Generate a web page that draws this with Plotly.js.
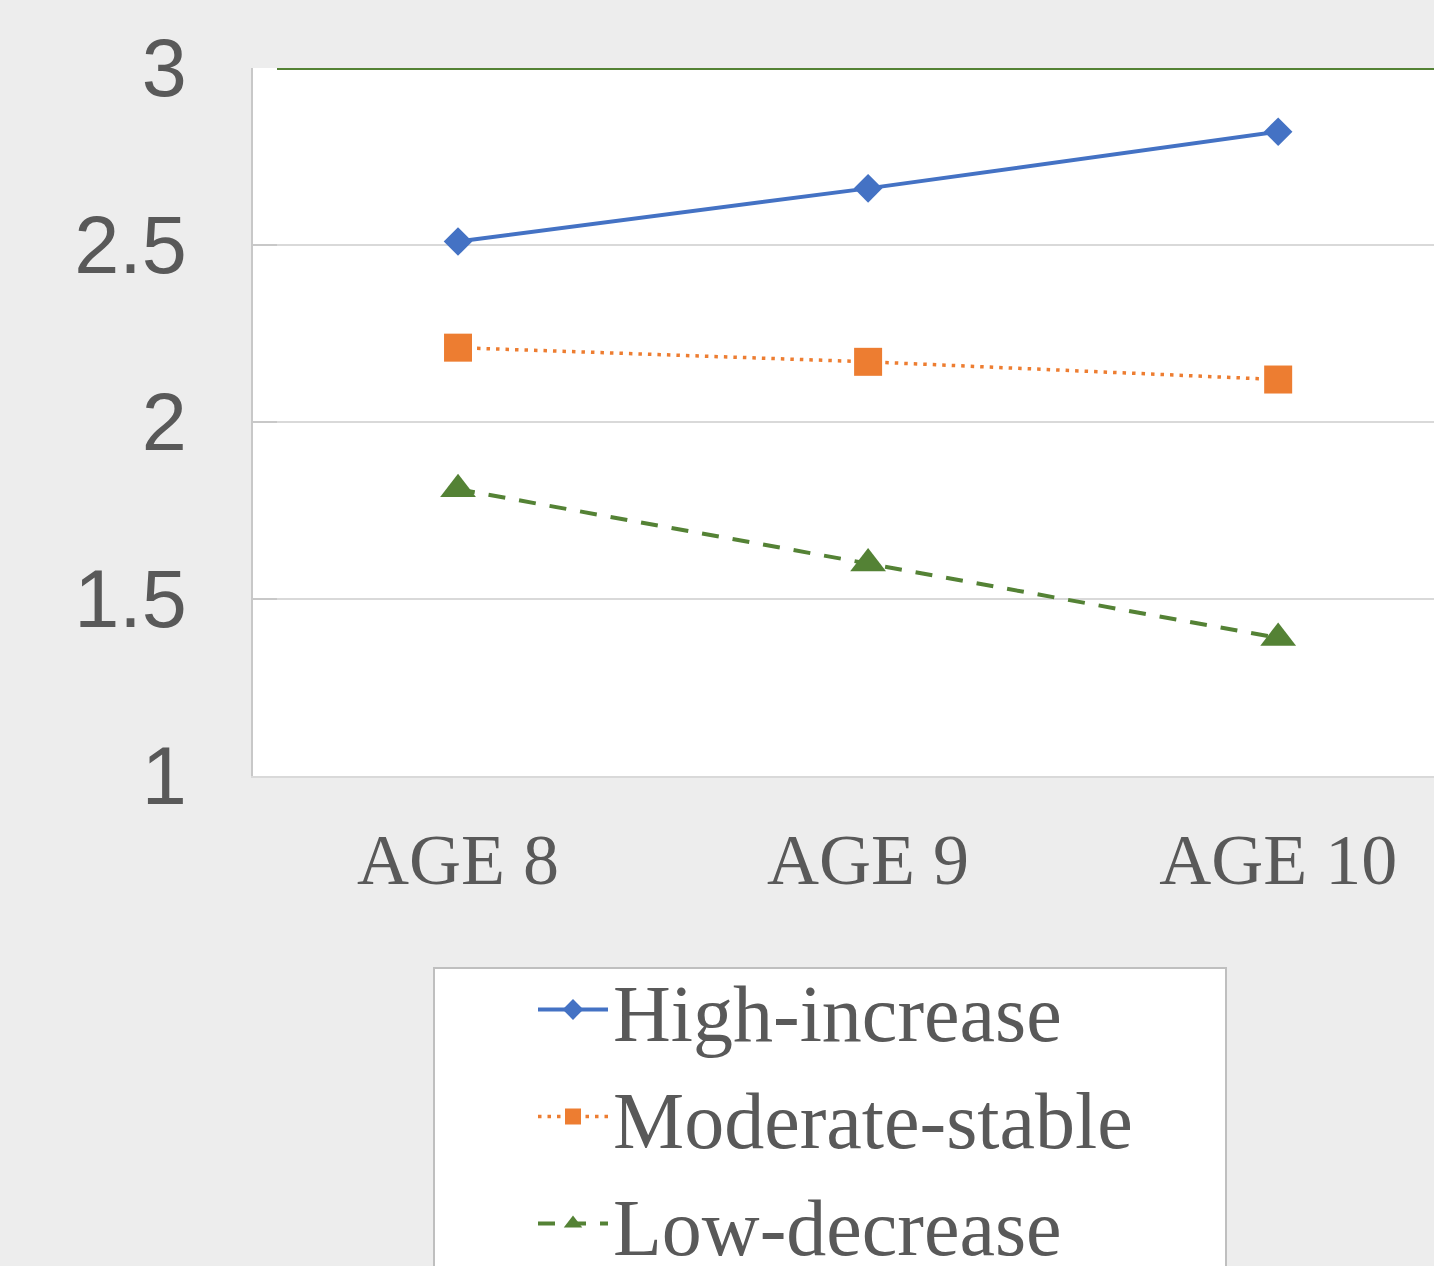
<!DOCTYPE html>
<html>
<head>
<meta charset="utf-8">
<script src="https://cdn.plot.ly/plotly-3.0.1.min.js"></script>
<style>html,body{margin:0;padding:0;background:#EDEDED;}#chart{width:1434px;height:1266px;}</style>
</head>
<body>
<div id="chart"></div>
<script>
var categories = ["AGE 8", "AGE 9", "AGE 10"];
var seriesNames = ["High-increase", "Moderate-stable", "Low-decrease"];
var highIncrease = [2.51, 2.66, 2.82];
var moderateStable = [2.21, 2.17, 2.12];
var lowDecrease = [1.81, 1.60, 1.39];
var yTicks = [1, 1.5, 2, 2.5, 3];

var traces = [
  {x: categories, y: highIncrease, name: seriesNames[0], type: 'scatter', mode: 'lines+markers',
   line: {color: '#4472C4', width: 4}, marker: {symbol: 'diamond', size: 22, color: '#4472C4'}},
  {x: categories, y: moderateStable, name: seriesNames[1], type: 'scatter', mode: 'lines+markers',
   line: {color: '#ED7D31', width: 3.5, dash: '3.5px,6px'}, marker: {symbol: 'square', size: 28, color: '#ED7D31'}},
  {x: categories, y: lowDecrease, name: seriesNames[2], type: 'scatter', mode: 'lines+markers',
   line: {color: '#548235', width: 4, dash: '17px,14px'}, marker: {symbol: 'triangle-up', size: 31, color: '#548235'}}
];

var layout = {
  width: 1434, height: 1266,
  paper_bgcolor: '#EDEDED', plot_bgcolor: '#FFFFFF',
  margin: {l: 253, r: 0, t: 68, b: 490, autoexpand: false},
  showlegend: true,
  xaxis: {
    type: 'category', range: [-0.5, 2.38], showgrid: false, zeroline: false,
    showline: true, linecolor: '#D9D9D9', linewidth: 2,
    ticks: '', tickfont: {family: 'Liberation Serif', size: 72, color: '#595959'},
    ticklabelstandoff: 20, fixedrange: true, automargin: false
  },
  yaxis: {
    range: [1, 3], tickvals: yTicks, ticktext: yTicks.map(String),
    showgrid: true, gridcolor: '#D9D9D9', gridwidth: 2, zeroline: false,
    showline: true, linecolor: '#C8C8C8', linewidth: 2,
    ticks: 'inside', ticklen: 24, tickcolor: '#C8C8C8', tickwidth: 2,
    tickfont: {family: 'Liberation Sans', size: 81, color: '#595959'},
    ticklabelstandoff: 48, fixedrange: true, automargin: false
  },
  shapes: [
    {type: 'rect', xref: 'paper', yref: 'paper', x0: (434-253)/1181, x1: (1226-253)/1181,
     y0: (776-968)/708, y1: -1.0, line: {color: '#BFBFBF', width: 2}, fillcolor: '#FFFFFF', layer: 'below'},
    {type: 'line', xref: 'paper', yref: 'y', x0: 24/1181, x1: 1, y0: 3, y1: 3,
     line: {color: '#548235', width: 4}}
  ],
  legend: {
    x: (533-253)/1181, y: (776-951)/708, xanchor: 'left', yanchor: 'top',
    bgcolor: 'rgba(0,0,0,0)', borderwidth: 0,
    font: {family: 'Liberation Serif', size: 80, color: '#595959'},
    itemwidth: 70, tracegroupgap: 0
  }
};

Plotly.newPlot('chart', traces, layout, {displayModeBar: false, staticPlot: true});
</script>
</body>
</html>
